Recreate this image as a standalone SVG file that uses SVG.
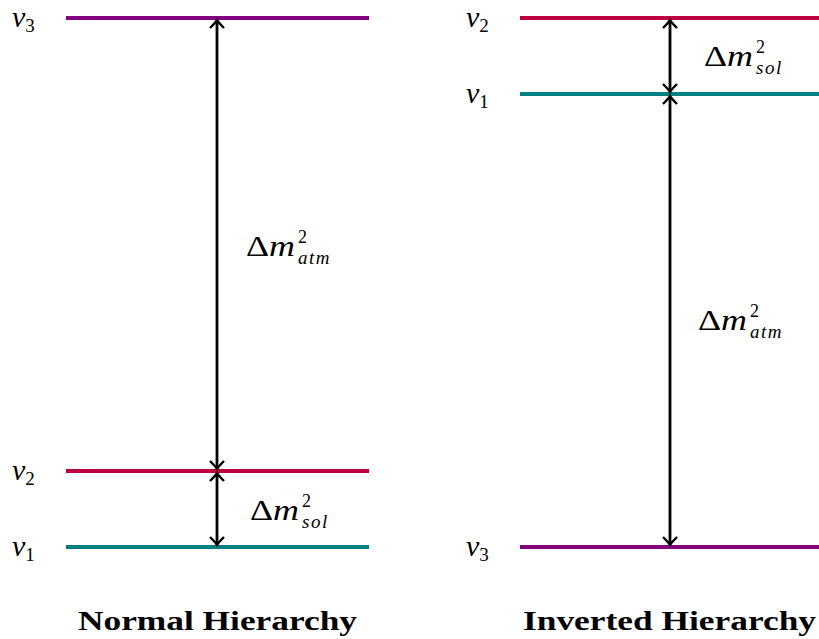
<svg xmlns="http://www.w3.org/2000/svg" width="819" height="639" viewBox="0 0 819 639">
<style>
.lvl{stroke-width:4;fill:none}
.c3{stroke:#800080}
.c2{stroke:#BF0040}
.c1{stroke:#008080}
.arr{stroke:#000;stroke-width:2.8;fill:none;marker-start:url(#ah);marker-end:url(#ah)}
.nu{font-family:"Liberation Serif",serif;font-style:italic;font-size:30px;fill:#000}
.sub{font-family:"Liberation Serif",serif;font-size:19px;font-style:normal}
.dm{font-family:"Liberation Serif",serif;font-size:30px;fill:#000}
.sup{font-family:"Liberation Serif",serif;font-size:18px;fill:#000}
.isub{font-family:"Liberation Serif",serif;font-size:19px;font-style:italic;fill:#000;letter-spacing:1.5px}
.ttl{font-family:"Liberation Serif",serif;font-weight:bold;font-size:28px;fill:#000}
</style>
<defs>
<marker id="ah" viewBox="-10 -8 12 16" markerWidth="12" markerHeight="16" refX="0" refY="0" orient="auto-start-reverse" markerUnits="userSpaceOnUse">
<path d="M-8,-7 Q-2,-1 0,0 Q-2,1 -8,7" stroke="#000" stroke-width="2.4" fill="none"/>
</marker>
</defs>
<g id="normal">
<g id="n-nu3"><line class="lvl c3" x1="66" y1="18" x2="369" y2="18"/><text class="nu" x="12" y="27">ν<tspan class="sub" dy="5">3</tspan></text></g>
<g id="n-nu2"><line class="lvl c2" x1="66" y1="471" x2="369" y2="471"/><text class="nu" x="12" y="480">ν<tspan class="sub" dy="5">2</tspan></text></g>
<g id="n-nu1"><line class="lvl c1" x1="66" y1="547" x2="369" y2="547"/><text class="nu" x="12" y="556">ν<tspan class="sub" dy="5">1</tspan></text></g>
<g id="n-atm"><text class="dm" x="246" y="256" textLength="49" lengthAdjust="spacingAndGlyphs">Δ<tspan font-style="italic">m</tspan></text><text class="sup" x="298" y="243">2</text><text class="isub" x="298" y="264">atm</text></g>
<g id="n-sol"><text class="dm" x="250" y="520" textLength="49" lengthAdjust="spacingAndGlyphs">Δ<tspan font-style="italic">m</tspan></text><text class="sup" x="302" y="507">2</text><text class="isub" x="302" y="528">sol</text></g>
<text class="ttl" x="78" y="630" textLength="279" lengthAdjust="spacingAndGlyphs">Normal Hierarchy</text>
</g>
<g id="inverted">
<g id="i-nu2"><line class="lvl c2" x1="520" y1="18" x2="819" y2="18"/><text class="nu" x="466" y="27">ν<tspan class="sub" dy="5">2</tspan></text></g>
<g id="i-nu1"><line class="lvl c1" x1="520" y1="94" x2="819" y2="94"/><text class="nu" x="466" y="103">ν<tspan class="sub" dy="5">1</tspan></text></g>
<g id="i-nu3"><line class="lvl c3" x1="520" y1="547" x2="819" y2="547"/><text class="nu" x="466" y="556">ν<tspan class="sub" dy="5">3</tspan></text></g>
<g id="i-sol"><text class="dm" x="704" y="66" textLength="49" lengthAdjust="spacingAndGlyphs">Δ<tspan font-style="italic">m</tspan></text><text class="sup" x="756" y="53">2</text><text class="isub" x="756" y="74">sol</text></g>
<g id="i-atm"><text class="dm" x="698" y="330" textLength="49" lengthAdjust="spacingAndGlyphs">Δ<tspan font-style="italic">m</tspan></text><text class="sup" x="750" y="317">2</text><text class="isub" x="750" y="338">atm</text></g>
<text class="ttl" x="523" y="630" textLength="293" lengthAdjust="spacingAndGlyphs">Inverted Hierarchy</text>
</g>
<g id="connectors">
<line class="arr" x1="217" y1="20" x2="217" y2="469"/>
<line class="arr" x1="217" y1="473" x2="217" y2="545"/>
<line class="arr" x1="670" y1="20" x2="670" y2="92"/>
<line class="arr" x1="670" y1="96" x2="670" y2="545"/>
</g>
</svg>
